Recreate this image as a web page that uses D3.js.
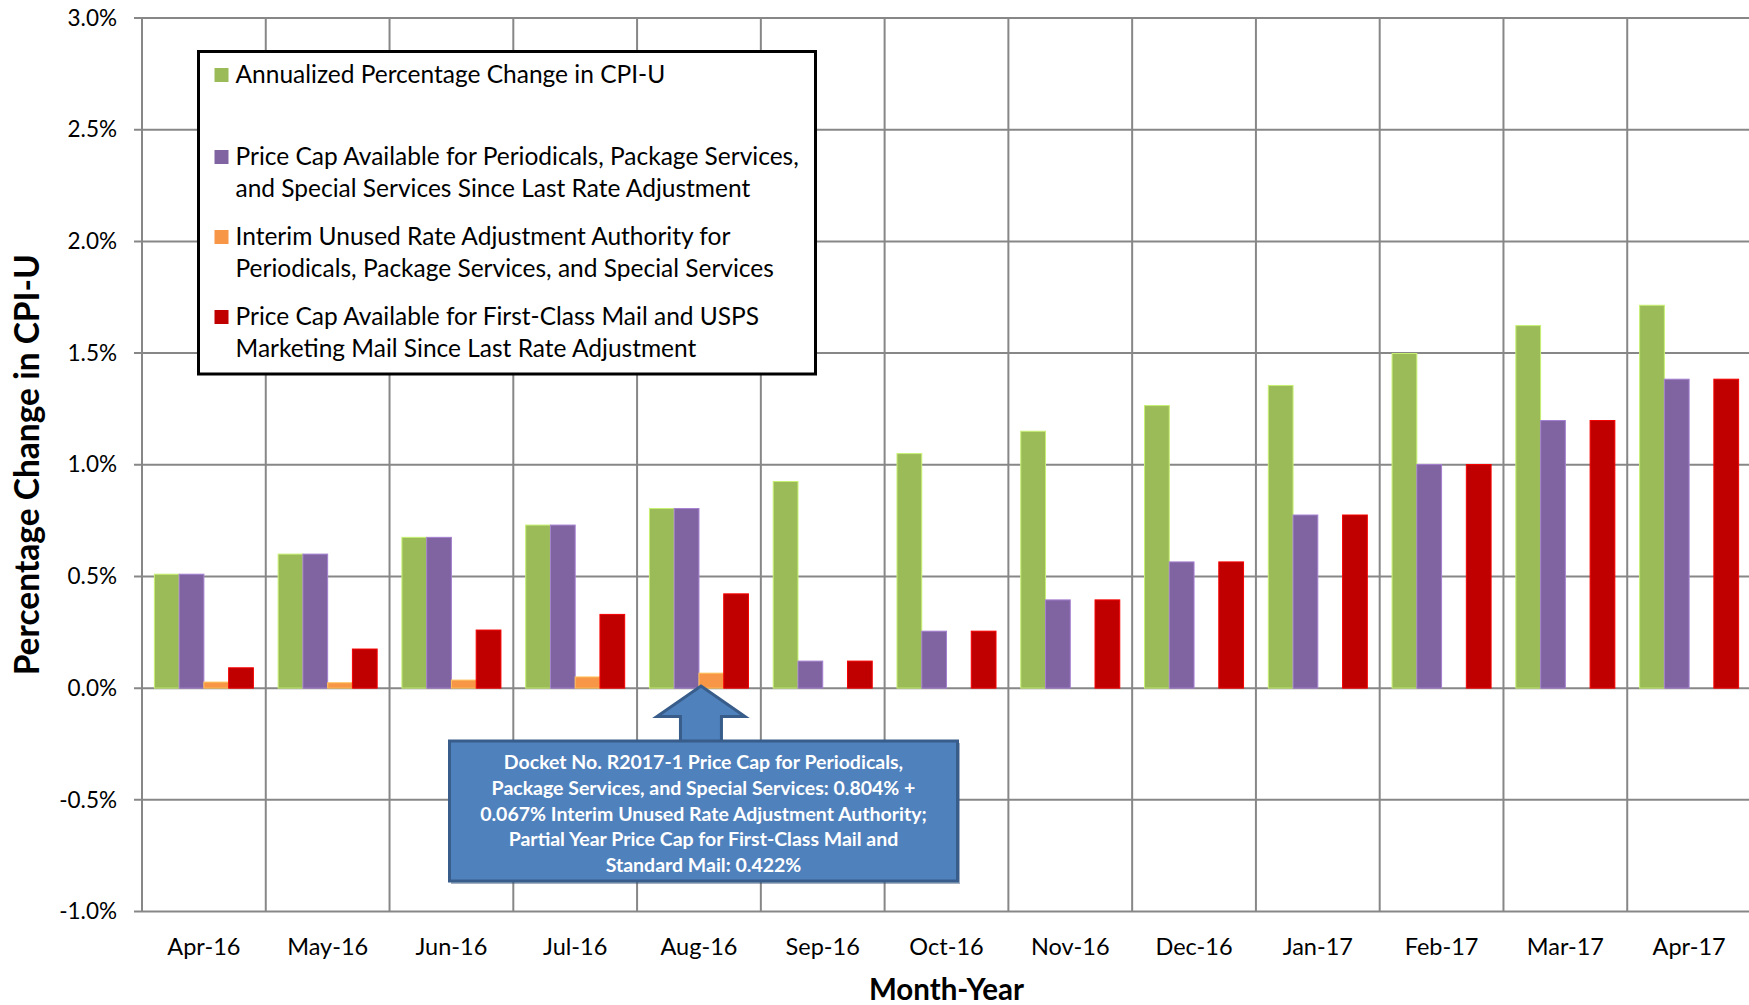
<!DOCTYPE html>
<html>
<head>
<meta charset="utf-8">
<script src="https://cdn.jsdelivr.net/npm/d3@7"></script>
<style>
  body { margin: 0; background: #fff; }
  svg { display: block; font-family: Lato, "Open Sans", sans-serif; }
</style>
</head>
<body>
<svg id="chart" width="1749" height="1005"></svg>
<script>
// month labels
const categories = ['Apr-16', 'May-16', 'Jun-16', 'Jul-16', 'Aug-16', 'Sep-16', 'Oct-16',
    'Nov-16', 'Dec-16', 'Jan-17', 'Feb-17', 'Mar-17', 'Apr-17'];

// values in percent
const cpiU = [0.510, 0.600, 0.675, 0.730, 0.804, 0.925, 1.050, 1.150, 1.265, 1.355, 1.498, 1.623, 1.714];
const capPeriodicals = [0.510, 0.600, 0.675, 0.730, 0.804, 0.121, 0.255, 0.395, 0.565, 0.775, 1.001, 1.198, 1.383];
const interimUnused = [0.027, 0.024, 0.036, 0.050, 0.067, null, null, null, null, null, null, null, null];
const capFirstClass = [0.091, 0.175, 0.260, 0.330, 0.422, 0.121, 0.255, 0.395, 0.565, 0.775, 1.001, 1.198, 1.383];

const yTicks = [-1.0, -0.5, 0.0, 0.5, 1.0, 1.5, 2.0, 2.5, 3.0];

const seriesKeys = ['cpi', 'periodicals', 'interim', 'firstClass'];
const seriesValues = [cpiU, capPeriodicals, interimUnused, capFirstClass];
const seriesColors = ['#9BBB59', '#8064A2', '#F79646', '#C00000'];
const legendLabels = [
    ['Annualized Percentage Change in CPI-U'],
    ['Price Cap Available for Periodicals, Package Services,', 'and Special Services Since Last Rate Adjustment'],
    ['Interim Unused Rate Adjustment Authority for', 'Periodicals, Package Services, and Special Services'],
    ['Price Cap Available for First-Class Mail and USPS', 'Marketing Mail Since Last Rate Adjustment'],
];
const noteLines = [
    'Docket No. R2017-1 Price Cap for Periodicals,',
    'Package Services, and Special Services: 0.804% +',
    '0.067% Interim Unused Rate Adjustment Authority;',
    'Partial Year Price Cap for First-Class Mail and',
    'Standard Mail: 0.422%',
];

const svg = d3.select('#chart');
const plotLeft = 142, plotRight = 1751, plotTop = 18, plotBottom = 911.5;
const gridColor = '#878787';

const x0 = d3.scaleBand().domain(categories).range([plotLeft, plotRight]).padding(0);
const x1 = d3.scaleBand().domain(seriesKeys).range([0, x0.bandwidth()])
    .paddingInner(0).paddingOuter(0.5);
const y = d3.scaleLinear().domain([-1, 3]).range([plotBottom, plotTop]);

// horizontal grid
svg.append('g')
    .selectAll('line')
    .data(yTicks)
    .enter()
    .append('line')
    .attr('x1', plotLeft - 8)
    .attr('x2', plotRight)
    .attr('y1', d => y(d))
    .attr('y2', d => y(d))
    .attr('stroke', gridColor)
    .attr('stroke-width', 2);

// vertical grid at category boundaries
const bounds = categories.map(c => x0(c)).concat([plotRight]);
svg.append('g')
    .selectAll('line')
    .data(bounds)
    .enter()
    .append('line')
    .attr('x1', d => d)
    .attr('x2', d => d)
    .attr('y1', plotTop)
    .attr('y2', plotBottom)
    .attr('stroke', gridColor)
    .attr('stroke-width', 2);

// y axis labels
const yAxis = svg.append('g')
    .attr('transform', `translate(${plotLeft},0)`)
    .call(d3.axisLeft(y).tickValues(yTicks).tickSize(0).tickPadding(25)
        .tickFormat(d => d.toFixed(1) + '%'));
yAxis.select('.domain').remove();
yAxis.selectAll('text')
    .style('font-family', 'Lato, sans-serif')
    .style('font-size', '22.5px')
    .attr('fill', '#000');

// x axis labels
const xAxis = svg.append('g')
    .attr('transform', `translate(0,${plotBottom})`)
    .call(d3.axisBottom(x0).tickSize(0).tickPadding(27));
xAxis.select('.domain').remove();
xAxis.selectAll('text')
    .style('font-family', 'Lato, sans-serif')
    .style('font-size', '23.5px')
    .attr('fill', '#000');

// bars
const rows = [];
categories.forEach((c, i) => {
    seriesKeys.forEach((k, j) => {
        if (seriesValues[j][i] != null) rows.push({ cat: c, key: k, value: seriesValues[j][i], color: seriesColors[j] });
    });
});
svg.append('g')
    .selectAll('rect')
    .data(rows)
    .enter()
    .append('rect')
    .attr('x', d => x0(d.cat) + x1(d.key))
    .attr('width', x1.bandwidth())
    .attr('y', d => y(Math.max(0, d.value)))
    .attr('height', d => Math.abs(y(d.value) - y(0)))
    .attr('fill', d => d.color)
    .attr('stroke', d => d3.color(d.color).brighter(0.7))
    .attr('stroke-width', 1);

// axis titles
svg.append('text')
    .attr('x', (plotLeft + plotRight) / 2)
    .attr('y', 1000)
    .attr('text-anchor', 'middle')
    .style('font-weight', 'bold')
    .style('font-size', '29.5px')
    .text('Month-Year');

svg.append('text')
    .attr('transform', `translate(39,${(plotTop + plotBottom) / 2}) rotate(-90)`)
    .attr('text-anchor', 'middle')
    .style('font-weight', 'bold')
    .style('font-size', '33.5px')
    .text('Percentage Change in CPI-U');

// legend
const legend = svg.append('g');
legend.append('rect')
    .attr('x', 198.5)
    .attr('y', 51.5)
    .attr('width', 617)
    .attr('height', 322.5)
    .attr('fill', '#fff')
    .attr('stroke', '#000')
    .attr('stroke-width', 3);
const legendBase = [83, 165, 245, 325];
legendLabels.forEach((lines, i) => {
    legend.append('rect')
        .attr('x', 214.5)
        .attr('y', legendBase[i] - 15)
        .attr('width', 14)
        .attr('height', 14)
        .attr('fill', seriesColors[i]);
    legend.selectAll(null)
        .data(lines)
        .enter()
        .append('text')
        .attr('x', 235.5)
        .attr('y', (d, k) => legendBase[i] + k * 32)
        .style('font-size', '24.5px')
        .text(d => d);
});

// annotation arrow and box
const tipX = x0('Aug-16') + x0.bandwidth() / 2 + 2;
const note = svg.append('g');
const arrow = [
    [tipX, 686], [tipX + 44, 716.5], [tipX + 20.5, 716.5], [tipX + 20.5, 742],
    [tipX - 20.5, 742], [tipX - 20.5, 716.5], [tipX - 44, 716.5],
];
note.append('path')
    .attr('d', d3.line()(arrow) + 'Z')
    .attr('fill', '#4F81BD')
    .attr('stroke', '#385D8A')
    .attr('stroke-width', 3)
    .attr('stroke-linejoin', 'miter');
note.append('rect')
    .attr('x', 451)
    .attr('y', 743)
    .attr('width', 509)
    .attr('height', 141)
    .attr('fill', '#2f4f78')
    .attr('opacity', 0.45);
note.append('rect')
    .attr('x', 449.5)
    .attr('y', 741)
    .attr('width', 508)
    .attr('height', 140)
    .attr('fill', '#4F81BD')
    .attr('stroke', '#385D8A')
    .attr('stroke-width', 3);
note.selectAll(null)
    .data(noteLines)
    .enter()
    .append('text')
    .attr('x', 703.5)
    .attr('y', (d, i) => 769 + i * 25.8)
    .attr('text-anchor', 'middle')
    .attr('fill', '#fff')
    .style('font-weight', 'bold')
    .style('font-size', '19.5px')
    .text(d => d);
</script>
</body>
</html>
